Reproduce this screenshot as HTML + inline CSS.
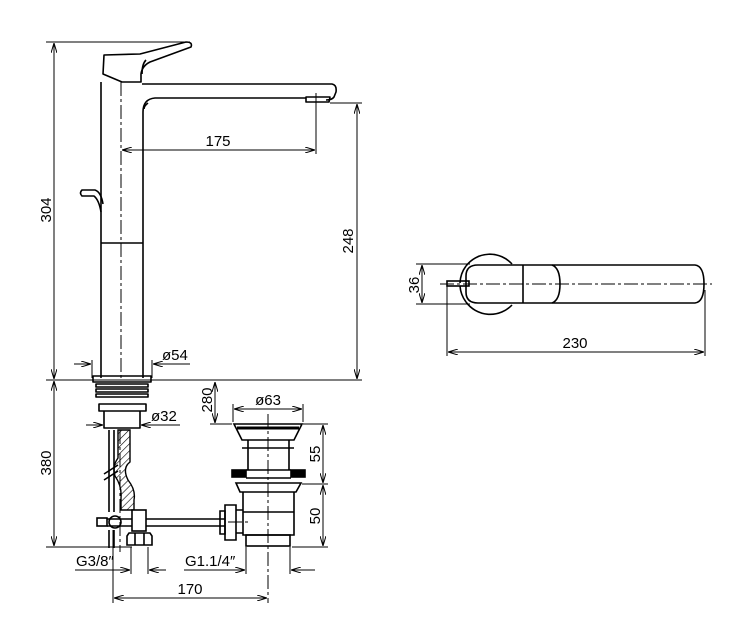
<!DOCTYPE html>
<html><head><meta charset="utf-8"><style>
html,body{margin:0;padding:0;background:#fff}
svg{display:block}
text{font-family:"Liberation Sans",sans-serif;font-size:15px;fill:#000}
</style></head><body>
<svg width="734" height="627" viewBox="0 0 734 627" xmlns="http://www.w3.org/2000/svg">
<defs>
<marker id="a" viewBox="0 0 10 6" refX="10" refY="3" markerWidth="10" markerHeight="6" orient="auto-start-reverse" markerUnits="userSpaceOnUse"><path d="M0,0 L10,3 L0,6" fill="none" stroke="#000" stroke-width="1"/></marker>
<pattern id="h" width="5" height="5" patternUnits="userSpaceOnUse" patternTransform="rotate(45)"><line x1="0" y1="0" x2="0" y2="5" stroke="#000" stroke-width="1.2"/></pattern>
</defs>
<g fill="none" stroke="#000" stroke-width="1">
<line x1="46" y1="42" x2="190" y2="42"/>
<line x1="54" y1="43" x2="54" y2="379" marker-start="url(#a)" marker-end="url(#a)"/>
<line x1="46" y1="380" x2="362" y2="380"/>
<line x1="54" y1="381" x2="54" y2="546" marker-start="url(#a)" marker-end="url(#a)"/>
<line x1="46" y1="547" x2="132" y2="547"/>
</g>
<g fill="none" stroke="#000" stroke-width="1.6" stroke-linejoin="round">
<path d="M104,55 L140,54 L186,42 Q193,42 191,47 L150,62 Q142,66 141,74 L141,82 L122,82 L103,74 Z"/>
<path d="M146,60 Q142,64 142,74"/>
<line x1="101" y1="82" x2="101" y2="378"/>
<line x1="143" y1="112" x2="143" y2="378"/>
<line x1="101" y1="243" x2="143" y2="243"/>
<path d="M142,84 L332,84 Q337,85 336,92 L334,97 Q332,100 326,100"/>
<path d="M143,112 Q143,99 155,98 L306,98"/>
<path d="M306,97 L330,97 L329,102 L306,102 Z"/>
<path d="M148,103 Q144,106 144,109"/>
<path d="M101,212 Q99,200 94,196 L82,196 Q79,193 82,190 L95,190 Q101,192 103,204"/>
<rect x="93" y="376" width="58" height="6"/>
<rect x="96" y="384" width="52" height="3"/>
<rect x="96" y="389" width="52" height="3"/>
<rect x="96" y="394" width="52" height="3"/>
<rect x="99" y="404" width="47" height="7"/>
<path d="M104,411 L104,428 L140,428 L140,411"/>
<path d="M109,430 L109,512 M114,430 L114,512"/>
<path d="M109,530 L109,548 M114,530 L114,548"/>
<path d="M104,474 L118,465 M104,480 L118,471"/>
</g>
<path d="M118,430 L130,430 L130,462 Q122,468 128,480 Q136,490 134,500 L134,510 L121,510 L121,498 Q122,486 115,476 Q112,466 118,458 Z" fill="url(#h)" stroke="#000" stroke-width="1.4"/>
<g fill="none" stroke="#000" stroke-width="1.6">
<rect x="97" y="518" width="10" height="8"/>
<circle cx="115" cy="522" r="6"/>
<line x1="107" y1="519" x2="225" y2="519"/>
<line x1="107" y1="526" x2="225" y2="526"/>
<rect x="132" y="510" width="14" height="21" fill="#fff"/>
<path d="M129,533 L150,533 L152,536 L152,545 L127,545 L127,536 Z"/>
<path d="M135,533 L135,545 M144,533 L144,545"/>
<path d="M234,424 L302,424 L294,440 L242,440 Z"/>
<path d="M237,428 L299,428" stroke-width="3"/>
<path d="M248,440 L248,470 M289,440 L289,470"/>
<path d="M242,448 L294,448"/>
<rect x="232" y="470" width="14" height="7" fill="#000"/>
<rect x="291" y="470" width="14" height="7" fill="#000"/>
<path d="M246,470 L291,470 M246,478 L291,478"/>
<path d="M236,483 L301,483 L296,492 L240,492 Z"/>
<path d="M243,492 L243,535 L294,535 L294,492"/>
<path d="M243,512 L294,512"/>
<rect x="246" y="535" width="44" height="11"/>
<path d="M225,505 L236,505 L236,540 L225,540 Z"/>
<path d="M220,511 L225,511 L225,534 L220,534 Z"/>
<path d="M236,510 L243,510 M236,533 L243,533"/>
</g>
<g fill="none" stroke="#000" stroke-width="1" stroke-dasharray="14,3,3,3">
<line x1="121" y1="82" x2="121" y2="378"/>
<line x1="268" y1="414" x2="268" y2="603"/>
<line x1="228" y1="522" x2="250" y2="522"/>
<line x1="120" y1="430" x2="120" y2="552"/>
<line x1="440" y1="284" x2="712" y2="284"/>
</g>
<g fill="none" stroke="#000" stroke-width="1">
<line x1="316" y1="93" x2="316" y2="154"/>
<line x1="122" y1="150" x2="315" y2="150" marker-start="url(#a)" marker-end="url(#a)"/>
<line x1="330" y1="103" x2="362" y2="103"/>
<line x1="357" y1="104" x2="357" y2="379" marker-start="url(#a)" marker-end="url(#a)"/>
<line x1="92" y1="360" x2="92" y2="378"/><line x1="152" y1="360" x2="152" y2="378"/>
<line x1="74" y1="364" x2="91" y2="364" marker-end="url(#a)"/>
<line x1="190" y1="364" x2="153" y2="364" marker-end="url(#a)"/>
<line x1="86" y1="425" x2="103" y2="425" marker-end="url(#a)"/>
<line x1="180" y1="425" x2="141" y2="425" marker-end="url(#a)"/>
<line x1="215" y1="382" x2="215" y2="423" marker-start="url(#a)" marker-end="url(#a)"/>
<line x1="210" y1="424" x2="232" y2="424"/>
<line x1="233" y1="404" x2="233" y2="422"/><line x1="303" y1="404" x2="303" y2="422"/>
<line x1="234" y1="409" x2="302" y2="409" marker-start="url(#a)" marker-end="url(#a)"/>
<line x1="303" y1="424" x2="328" y2="424"/>
<line x1="302" y1="484" x2="328" y2="484"/>
<line x1="292" y1="547" x2="328" y2="547"/>
<line x1="323" y1="425" x2="323" y2="483" marker-start="url(#a)" marker-end="url(#a)"/>
<line x1="323" y1="485" x2="323" y2="546" marker-start="url(#a)" marker-end="url(#a)"/>
<line x1="131" y1="547" x2="131" y2="574"/><line x1="148" y1="547" x2="148" y2="574"/>
<line x1="75" y1="570" x2="130" y2="570" marker-end="url(#a)"/>
<line x1="166" y1="570" x2="149" y2="570" marker-end="url(#a)"/>
<line x1="246" y1="547" x2="246" y2="574"/><line x1="290" y1="547" x2="290" y2="574"/>
<line x1="184" y1="570" x2="245" y2="570" marker-end="url(#a)"/>
<line x1="315" y1="570" x2="291" y2="570" marker-end="url(#a)"/>
<line x1="113" y1="530" x2="113" y2="603"/>
<line x1="114" y1="598" x2="267" y2="598" marker-start="url(#a)" marker-end="url(#a)"/>
<line x1="416" y1="264" x2="470" y2="264"/>
<line x1="416" y1="304" x2="470" y2="304"/>
<line x1="422" y1="265" x2="422" y2="303" marker-start="url(#a)" marker-end="url(#a)"/>
<line x1="447" y1="283" x2="447" y2="356"/>
<line x1="705" y1="290" x2="705" y2="356"/>
<line x1="448" y1="352" x2="704" y2="352" marker-start="url(#a)" marker-end="url(#a)"/>
</g>
<g fill="none" stroke="#000" stroke-width="1.6">
<path d="M466,266 A30,30 0 0 1 512,264"/>
<path d="M466,302 A30,30 0 0 0 512,305"/>
<path d="M460,283 A30,30 0 0 1 466,266 M460,286 A30,30 0 0 0 466,302"/>
<path d="M478,265 L695,265 Q704,266 704,284 Q704,302 695,303 L478,303 Q466,303 466,292 L466,276 Q466,265 478,265 Z"/>
<path d="M523,265 L523,303"/>
<path d="M552,265 Q560,268 560,284 Q560,300 552,303"/>
<rect x="447" y="281" width="22" height="5"/>
</g>
<g>
<text x="218" y="146" text-anchor="middle">175</text>
<text x="0" y="0" text-anchor="middle" transform="translate(51,210) rotate(-90)">304</text>
<text x="0" y="0" text-anchor="middle" transform="translate(353,241) rotate(-90)">248</text>
<text x="0" y="0" text-anchor="middle" transform="translate(51,463) rotate(-90)">380</text>
<text x="0" y="0" text-anchor="middle" transform="translate(212,400) rotate(-90)">280</text>
<text x="0" y="0" text-anchor="middle" transform="translate(320,454) rotate(-90)">55</text>
<text x="0" y="0" text-anchor="middle" transform="translate(320,516) rotate(-90)">50</text>
<text x="0" y="0" text-anchor="middle" transform="translate(419,285) rotate(-90)">36</text>
<text x="162" y="360">ø54</text>
<text x="151" y="421">ø32</text>
<text x="268" y="405" text-anchor="middle">ø63</text>
<text x="76" y="566">G3/8″</text>
<text x="185" y="566">G1.1/4″</text>
<text x="190" y="594" text-anchor="middle">170</text>
<text x="575" y="348" text-anchor="middle">230</text>
</g>
</svg>
</body></html>
